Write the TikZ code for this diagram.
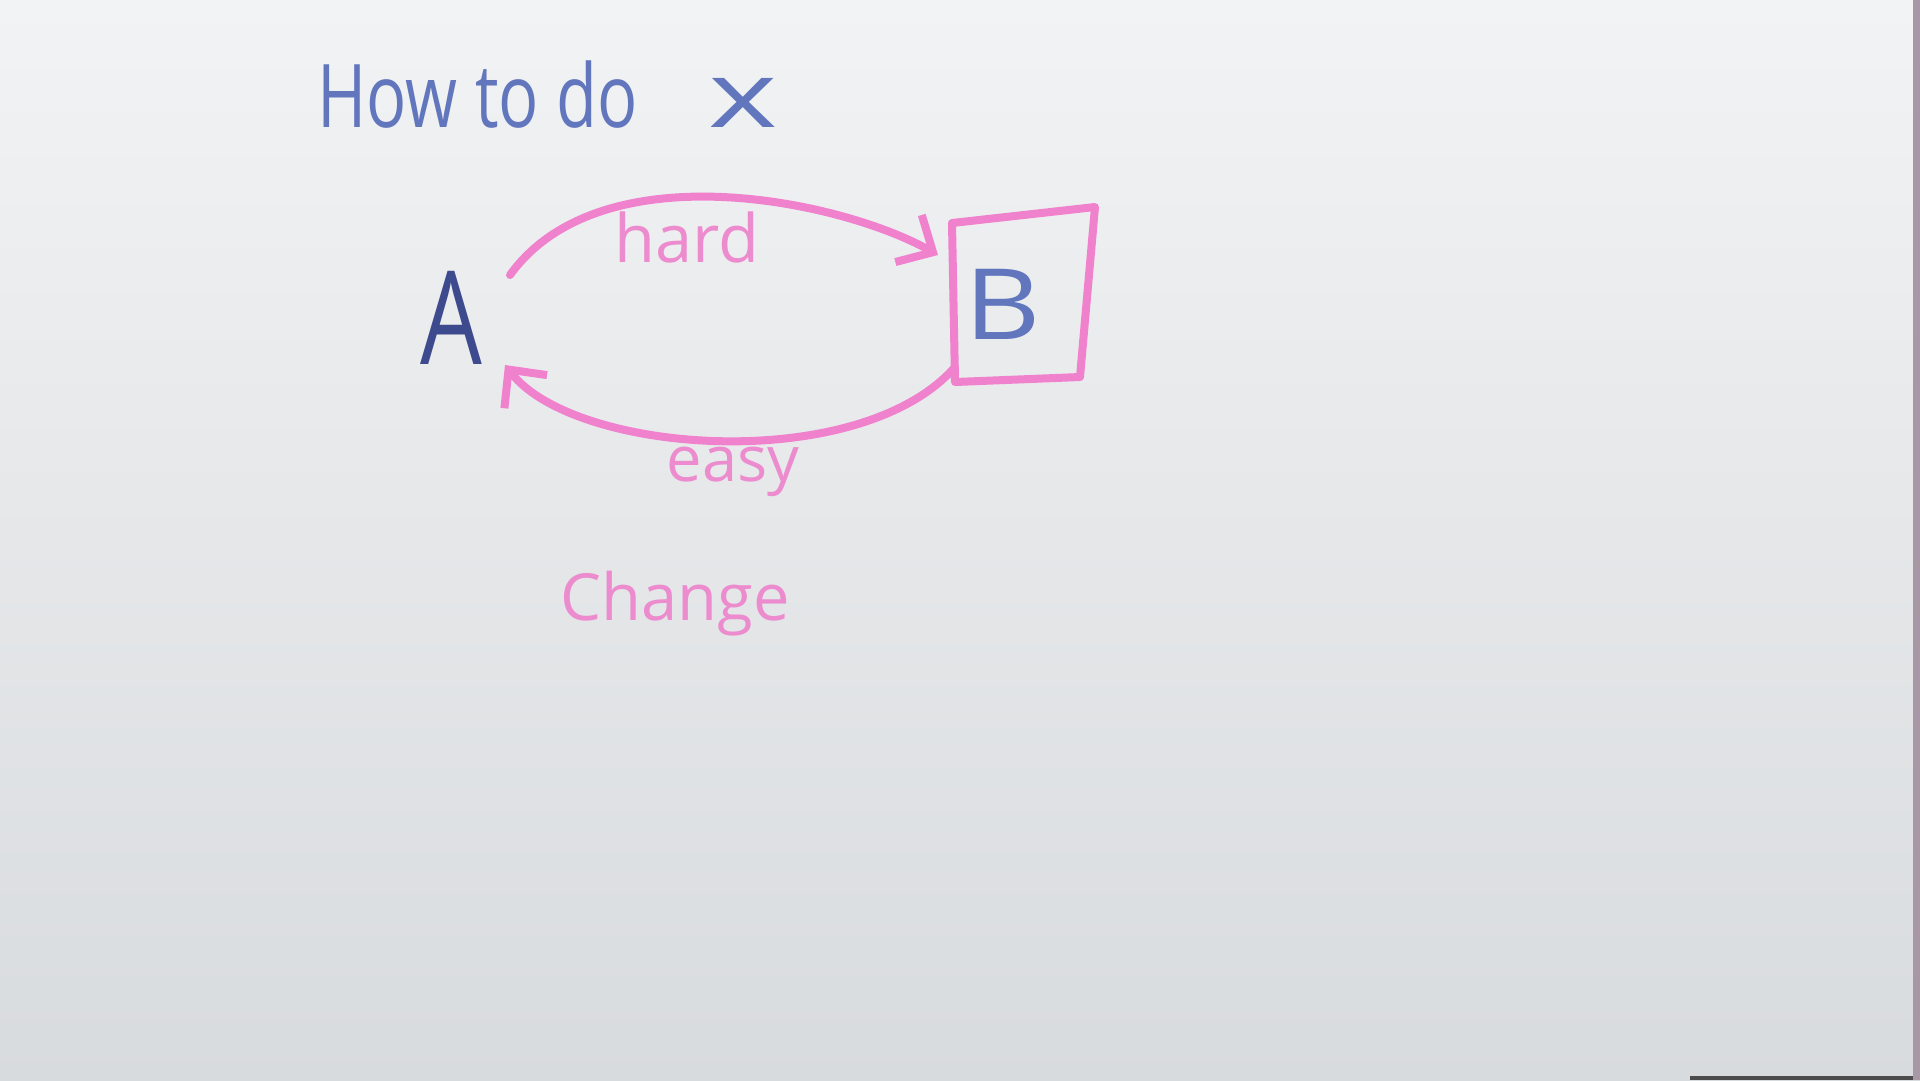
\documentclass[tikz,border=0pt]{standalone}
\usepackage{graphicx}
\usepackage{fontspec}
\setmainfont{Open Sans}
\usetikzlibrary{arrows.meta,calc}
\definecolor{boardtop}{RGB}{242,243,244}
\definecolor{boardbot}{RGB}{216,219,222}
\definecolor{marker}{RGB}{240,130,205}
\definecolor{pinktext}{RGB}{236,140,206}
\definecolor{bluetext}{RGB}{98,118,190}
\definecolor{darkblue}{RGB}{62,74,142}
\definecolor{edgestrip}{RGB}{168,152,166}
\tikzset{
  pinkline/.style={draw=marker, line width=0.8mm, line cap=round, line join=round},
  barb/.style={-{Straight Barb[length=2.8mm,width=5.4mm]}},
  title/.style={text=bluetext, font=\fontsize{25}{30}\selectfont, inner sep=0pt, anchor=base west},
  bigA/.style={text=darkblue, font=\fontsize{37}{40}\selectfont, inner sep=0pt},
  bigB/.style={text=bluetext, font=\fontsize{28}{34}\selectfont, inner sep=0pt},
  pinklabel/.style={text=pinktext, inner sep=0pt, anchor=base},
}
\begin{document}
\begin{tikzpicture}[x=0.1mm, y=-0.1mm]
\useasboundingbox (0,0) rectangle (1920,1080);
\shade[top color=boardtop, bottom color=boardbot] (0,0) rectangle (1920,1080);
\fill[edgestrip] (1913,0) rectangle (1920,1080);
\fill[black!70] (1690,1076) rectangle (1913,1080);

% title
\node[title] (T) at (317,127) {\scalebox{0.76}[1]{How to do}\hspace{20pt}\scalebox{1.3}[0.9]{\fontsize{29}{30}\selectfont x}};

% nodes
\node[bigA] (A) at (451,318) {\scalebox{0.75}[1]{A}};
\node[bigB] (B) at (1003,304) {\scalebox{1.2}[1]{B}};
\coordinate (b1) at (952,223);
\coordinate (b2) at (1095,207);
\coordinate (b3) at (1080,377);
\coordinate (b4) at (955,382);
\draw[pinkline] (b1) -- (b2) -- (b3) -- (b4) -- cycle;

% hard arrow A -> B
\coordinate (hs) at ($(A)+(59,-43)$);
\coordinate (he) at ($(b1)+(-14,32)$);
\draw[pinkline, barb] (hs) .. controls (600,150) and (840,200) .. (he);
\node[pinklabel, font=\fontsize{19}{22}\selectfont] (hard) at (687,262) {hard};

% easy arrow B -> A
\coordinate (es) at ($(b4)+(0,-15)$);
\coordinate (ee) at ($(A)+(54,47)$);
\draw[pinkline, barb] (es) .. controls (860,475) and (575,455) .. (ee);
\node[pinklabel, font=\fontsize{18}{22}\selectfont] (easy) at (733,481) {easy};

% change
\node[pinklabel, font=\fontsize{18.5}{22}\selectfont] (change) at (675,620) {Change};
\end{tikzpicture}
\end{document}
